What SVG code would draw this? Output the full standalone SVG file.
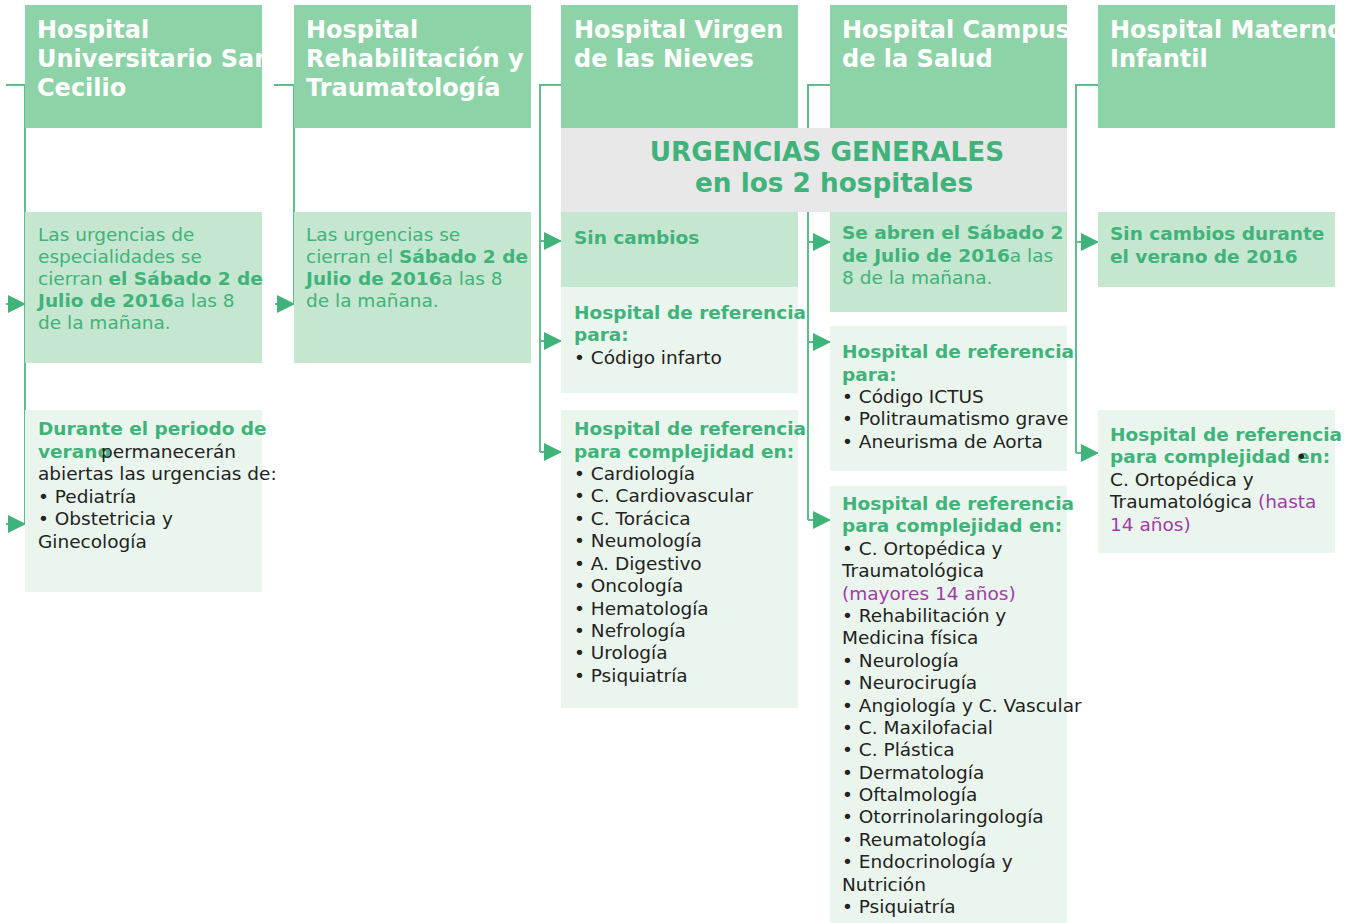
<svg xmlns="http://www.w3.org/2000/svg" width="1356" height="923" viewBox="0 0 1356 923">
<style>
.hdr{fill:#8dd3a7}
.mid{fill:#c5e6cf}
.lt{fill:#eaf6ed}
.ban{fill:#e8e8e8}
.ht{font-family:"DejaVu Sans",sans-serif;font-size:24px;font-weight:bold;fill:#ffffff}
.t{font-family:"DejaVu Sans",sans-serif;font-size:18.5px;fill:#222222}
.g{fill:#40b37a}
.b{font-weight:bold}
.p{fill:#a33aa8}
.bt{font-family:"DejaVu Sans",sans-serif;font-size:26.3px;font-weight:bold;fill:#40b37a;text-anchor:middle}
.ln{fill:none;stroke:#5cbf8b;stroke-width:2}
.ar{fill:none;stroke:#5cbf8b;stroke-width:2;marker-end:url(#ah)}
</style>
<defs>
<marker id="ah" markerUnits="userSpaceOnUse" markerWidth="18" markerHeight="18" viewBox="0 0 18 18" refX="17" refY="9" orient="auto">
<path d="M0,0 L18,9 L0,18 z" fill="#40b37a"/>
</marker>
<clipPath id="c1"><rect x="25" y="5" width="237" height="123"/></clipPath>
<clipPath id="c2"><rect x="294" y="5" width="237" height="123"/></clipPath>
<clipPath id="c3"><rect x="561" y="5" width="237" height="123"/></clipPath>
<clipPath id="c4"><rect x="830" y="5" width="237" height="123"/></clipPath>
<clipPath id="c5"><rect x="1098" y="5" width="237" height="123"/></clipPath>
</defs>

<g id="connectors">
<path class="ln" d="M6,85 H25 V524"/>
<path class="ar" d="M6,304 H25"/>
<path class="ar" d="M6,524 H25"/>
<path class="ln" d="M274,85 H294 V304"/>
<path class="ar" d="M275,304 H294"/>
<path class="ln" d="M561,85 H540 V452"/>
<path class="ar" d="M540,241 H561"/>
<path class="ar" d="M540,341 H561"/>
<path class="ar" d="M540,452 H561"/>
<path class="ln" d="M830,85 H808 V520"/>
<path class="ar" d="M808,242 H830"/>
<path class="ar" d="M808,342 H830"/>
<path class="ar" d="M808,520 H830"/>
<path class="ln" d="M1098,85 H1076 V453"/>
<path class="ar" d="M1076,242 H1098"/>
<path class="ar" d="M1076,453 H1098"/>
</g>

<g id="h1">
<rect class="hdr" x="25" y="5" width="237" height="123"/>
<text class="ht" clip-path="url(#c1)"><tspan x="37" y="38">Hospital</tspan><tspan x="37" y="67">Universitario San</tspan><tspan x="37" y="96">Cecilio</tspan></text>
</g>
<g id="h2">
<rect class="hdr" x="294" y="5" width="237" height="123"/>
<text class="ht" clip-path="url(#c2)"><tspan x="306" y="38">Hospital</tspan><tspan x="306" y="67">Rehabilitación y</tspan><tspan x="306" y="96">Traumatología</tspan></text>
</g>
<g id="h3">
<rect class="hdr" x="561" y="5" width="237" height="123"/>
<text class="ht" clip-path="url(#c3)"><tspan x="574" y="38">Hospital Virgen</tspan><tspan x="574" y="67">de las Nieves</tspan></text>
</g>
<g id="h4">
<rect class="hdr" x="830" y="5" width="237" height="123"/>
<text class="ht" clip-path="url(#c4)"><tspan x="842" y="38">Hospital Campus</tspan><tspan x="842" y="67">de la Salud</tspan></text>
</g>
<g id="h5">
<rect class="hdr" x="1098" y="5" width="237" height="123"/>
<text class="ht" clip-path="url(#c5)"><tspan x="1110" y="38">Hospital Materno</tspan><tspan x="1110" y="67">Infantil</tspan></text>
</g>

<g id="banner">
<rect class="ban" x="561" y="128" width="506" height="84"/>
<text class="bt"><tspan x="827" y="161">URGENCIAS GENERALES</tspan><tspan x="834" y="192">en los 2 hospitales</tspan></text>
</g>

<g id="n1a">
<rect class="mid" x="25" y="212" width="237" height="151"/>
<text class="t g"><tspan x="38" y="241">Las urgencias de</tspan><tspan x="38" y="263">especialidades se</tspan><tspan x="38" y="285">cierran <tspan class="b">el Sábado 2 de</tspan></tspan><tspan x="38" y="307"><tspan class="b">Julio de 2016</tspan>a las 8</tspan><tspan x="38" y="329">de la mañana.</tspan></text>
</g>
<g id="n1b">
<rect class="lt" x="25" y="410" width="237" height="182"/>
<text class="t"><tspan x="38" y="435" class="g b">Durante el periodo de</tspan><tspan x="38" y="458" class="g b">verano</tspan><tspan x="101" y="458">permanecerán</tspan><tspan x="38" y="480">abiertas las urgencias de:</tspan><tspan x="38" y="503">• Pediatría</tspan><tspan x="38" y="525">• Obstetricia y</tspan><tspan x="38" y="548">Ginecología</tspan></text>
</g>

<g id="n2a">
<rect class="mid" x="294" y="212" width="237" height="151"/>
<text class="t g"><tspan x="306" y="241">Las urgencias se</tspan><tspan x="306" y="263">cierran el <tspan class="b">Sábado 2 de</tspan></tspan><tspan x="306" y="285"><tspan class="b">Julio de 2016</tspan>a las 8</tspan><tspan x="306" y="307">de la mañana.</tspan></text>
</g>

<g id="n3a">
<rect class="mid" x="561" y="212" width="237" height="75"/>
<text class="t g b"><tspan x="574" y="244">Sin cambios</tspan></text>
</g>
<g id="n3b">
<rect class="lt" x="561" y="287" width="237" height="106"/>
<text class="t"><tspan x="574" y="319" class="g b">Hospital de referencia</tspan><tspan x="574" y="341" class="g b">para:</tspan><tspan x="574" y="364">• Código infarto</tspan></text>
</g>
<g id="n3c">
<rect class="lt" x="561" y="410" width="237" height="298"/>
<text class="t"><tspan x="574" y="435" class="g b">Hospital de referencia</tspan><tspan x="574" y="458" class="g b">para complejidad en:</tspan><tspan x="574" y="480">• Cardiología</tspan><tspan x="574" y="502">• C. Cardiovascular</tspan><tspan x="574" y="525">• C. Torácica</tspan><tspan x="574" y="547">• Neumología</tspan><tspan x="574" y="570">• A. Digestivo</tspan><tspan x="574" y="592">• Oncología</tspan><tspan x="574" y="615">• Hematología</tspan><tspan x="574" y="637">• Nefrología</tspan><tspan x="574" y="659">• Urología</tspan><tspan x="574" y="682">• Psiquiatría</tspan></text>
</g>

<g id="n4a">
<rect class="mid" x="830" y="212" width="237" height="100"/>
<text class="t g"><tspan x="842" y="239" class="b">Se abren el Sábado 2</tspan><tspan x="842" y="262"><tspan class="b">de Julio de 2016</tspan>a las</tspan><tspan x="842" y="284">8 de la mañana.</tspan></text>
</g>
<g id="n4b">
<rect class="lt" x="830" y="326" width="237" height="145"/>
<text class="t"><tspan x="842" y="358" class="g b">Hospital de referencia</tspan><tspan x="842" y="381" class="g b">para:</tspan><tspan x="842" y="403">• Código ICTUS</tspan><tspan x="842" y="425">• Politraumatismo grave</tspan><tspan x="842" y="448">• Aneurisma de Aorta</tspan></text>
</g>
<g id="n4c">
<rect class="lt" x="830" y="486" width="237" height="437"/>
<text class="t"><tspan x="842" y="510" class="g b">Hospital de referencia</tspan><tspan x="842" y="532" class="g b">para complejidad en:</tspan><tspan x="842" y="555">• C. Ortopédica y</tspan><tspan x="842" y="577">Traumatológica</tspan><tspan x="842" y="600" class="p">(mayores 14 años)</tspan><tspan x="842" y="622">• Rehabilitación y</tspan><tspan x="842" y="644">Medicina física</tspan><tspan x="842" y="667">• Neurología</tspan><tspan x="842" y="689">• Neurocirugía</tspan><tspan x="842" y="712">• Angiología y C. Vascular</tspan><tspan x="842" y="734">• C. Maxilofacial</tspan><tspan x="842" y="756">• C. Plástica</tspan><tspan x="842" y="779">• Dermatología</tspan><tspan x="842" y="801">• Oftalmología</tspan><tspan x="842" y="823">• Otorrinolaringología</tspan><tspan x="842" y="846">• Reumatología</tspan><tspan x="842" y="868">• Endocrinología y</tspan><tspan x="842" y="891">Nutrición</tspan><tspan x="842" y="913">• Psiquiatría</tspan></text>
</g>

<g id="n5a">
<rect class="mid" x="1098" y="212" width="237" height="75"/>
<text class="t g b"><tspan x="1110" y="240">Sin cambios durante</tspan><tspan x="1110" y="263">el verano de 2016</tspan></text>
</g>
<g id="n5b">
<rect class="lt" x="1098" y="410" width="237" height="143"/>
<text class="t"><tspan x="1110" y="441" class="g b">Hospital de referencia</tspan><tspan x="1110" y="463" class="g b">para complejidad en:</tspan><tspan x="1296" y="463">•</tspan><tspan x="1110" y="486">C. Ortopédica y</tspan><tspan x="1110" y="508">Traumatológica <tspan class="p">(hasta</tspan></tspan><tspan x="1110" y="531" class="p">14 años)</tspan></text>
</g>
</svg>
